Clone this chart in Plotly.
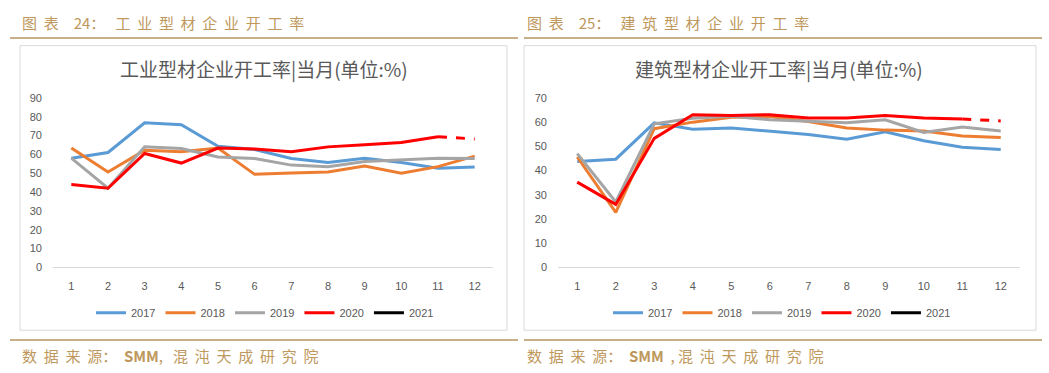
import plotly.graph_objects as go

months = list(range(1, 13))
tick_labels = [str(m) for m in months]
years = ["2017", "2018", "2019", "2020", "2021"]

# 工业型材企业开工率
ind_2017 = [58.0, 61.0, 76.8, 75.8, 64.3, 62.6, 57.8, 55.7, 58.0, 55.7, 52.6, 53.3]
ind_2018 = [63.4, 50.6, 62.2, 61.4, 63.4, 49.4, 50.1, 50.6, 53.8, 50.0, 53.5, 59.1]
ind_2019 = [58.0, 42.0, 64.0, 63.1, 58.6, 57.8, 54.3, 53.5, 56.2, 57.1, 58.0, 57.8]
ind_2020 = [44.0, 42.0, 60.5, 55.4, 63.4, 62.9, 61.4, 64.0, 65.1, 66.3, 69.4, 68.2]

# 建筑型材企业开工率
bld_2017 = [43.7, 44.7, 59.7, 57.1, 57.6, 56.3, 54.9, 52.9, 56.0, 52.3, 49.6, 48.7]
bld_2018 = [45.6, 22.7, 57.3, 60.0, 62.0, 62.3, 60.3, 57.6, 56.7, 56.3, 54.3, 53.7]
bld_2019 = [47.0, 27.0, 59.3, 61.6, 62.4, 61.0, 60.4, 59.7, 61.0, 55.7, 58.0, 56.3]
bld_2020 = [35.2, 26.0, 53.3, 63.1, 62.7, 63.1, 61.7, 61.7, 62.7, 61.7, 61.3, 60.5]

colors = {"2017": "#5B9BD5", "2018": "#ED7D31", "2019": "#A5A5A5", "2020": "#FF0000", "2021": "#000000"}

W, H = 1049, 373
def px(x):
    return x / W
def py(y):
    return 1 - y / H

fig = go.Figure()

def add_panel(xa, ya, legend, series):
    for yr, vals in series:
        if yr == "2020":
            fig.add_trace(go.Scatter(x=months[:11], y=vals[:11], mode="lines", name=yr,
                                     line=dict(color=colors[yr], width=3),
                                     xaxis=xa, yaxis=ya, legend=legend))
            fig.add_trace(go.Scatter(x=months[10:], y=vals[10:], mode="lines", name=yr,
                                     line=dict(color=colors[yr], width=3, dash="dash"),
                                     xaxis=xa, yaxis=ya, legend=legend, showlegend=False))
        else:
            fig.add_trace(go.Scatter(x=months, y=vals, mode="lines", name=yr,
                                     line=dict(color=colors[yr], width=3),
                                     xaxis=xa, yaxis=ya, legend=legend))
    fig.add_trace(go.Scatter(x=[None], y=[None], mode="lines", name="2021",
                             line=dict(color=colors["2021"], width=3),
                             xaxis=xa, yaxis=ya, legend=legend))

add_panel("x", "y", "legend", [("2017", ind_2017), ("2018", ind_2018), ("2019", ind_2019), ("2020", ind_2020)])
add_panel("x2", "y2", "legend2", [("2017", bld_2017), ("2018", bld_2018), ("2019", bld_2019), ("2020", bld_2020)])

tick_font = dict(family="Liberation Sans, Arial, sans-serif", size=11, color="#595959")
ydom = [py(270), py(95)]

common_x = dict(tickmode="array", tickvals=months, ticktext=tick_labels, range=[0.5, 12.5],
                showgrid=False, zeroline=False, showline=True, linecolor="#D9D9D9", linewidth=1,
                ticks="", tickfont=tick_font, fixedrange=True, ticklabelstandoff=8)
common_y = dict(showgrid=False, zeroline=False, showline=False, ticks="", tickfont=tick_font,
                dtick=10, ticklabelstandoff=10, domain=ydom, fixedrange=True)

legend_font = dict(family="Liberation Sans, Arial, sans-serif", size=11, color="#595959")
fig.update_layout(
    width=W, height=H,
    margin=dict(l=0, r=0, t=0, b=0),
    paper_bgcolor="white", plot_bgcolor="white",
    xaxis=dict(domain=[px(53), px(493)], anchor="y", **common_x),
    yaxis=dict(range=[0, 90], anchor="x", **common_y),
    xaxis2=dict(domain=[px(558), px(1020)], anchor="y2", **common_x),
    yaxis2=dict(range=[0, 70], anchor="x2", **common_y),
    legend=dict(orientation="h", x=px(265), xanchor="center", y=py(317), yanchor="middle",
                font=legend_font, itemwidth=30, tracegroupgap=0, bgcolor="rgba(0,0,0,0)"),
    legend2=dict(orientation="h", x=px(782), xanchor="center", y=py(317), yanchor="middle",
                 font=legend_font, itemwidth=30, tracegroupgap=0, bgcolor="rgba(0,0,0,0)"),
    showlegend=True,
)

gold = "#BE985C"
line_gold = "#B59662"
shapes = [
    dict(type="line", xref="paper", yref="paper", x0=px(10), x1=px(518), y0=py(33), y1=py(33),
         line=dict(color=line_gold, width=1.5)),
    dict(type="line", xref="paper", yref="paper", x0=px(524), x1=px(1042), y0=py(33), y1=py(33),
         line=dict(color=line_gold, width=1.5)),
    dict(type="line", xref="paper", yref="paper", x0=px(10), x1=px(518), y0=py(345), y1=py(345),
         line=dict(color=line_gold, width=1.5)),
    dict(type="line", xref="paper", yref="paper", x0=px(524), x1=px(1042), y0=py(345), y1=py(345),
         line=dict(color=line_gold, width=1.5)),
    dict(type="rect", xref="paper", yref="paper", x0=px(20), x1=px(507), y0=py(335), y1=py(41),
         line=dict(color="#D9D9D9", width=1)),
    dict(type="rect", xref="paper", yref="paper", x0=px(524), x1=px(1036), y0=py(335), y1=py(41),
         line=dict(color="#D9D9D9", width=1)),
]
fig.update_layout(shapes=shapes)

cjk = "Noto Sans CJK SC"
ann = []
def text(x, y, s, size, color, xanchor="left", family=cjk):
    ann.append(dict(xref="paper", yref="paper", x=px(x), y=py(y), text=s, showarrow=False,
                    xanchor=xanchor, yanchor="middle",
                    font=dict(family=family, size=size, color=color)))

NB = "\u00a0"
EM = "\u2003"
def spaced(s, n=2):
    return (NB * n).join(list(s))

smm = "<b>SMM</b>"
text(20, 17, spaced("图表") + EM + "24：" + NB * 3 + spaced("工业型材企业开工率"), 15, gold)
text(525, 17, spaced("图表") + EM + "25：" + NB * 3 + spaced("建筑型材企业开工率"), 15, gold)
text(20, 361, spaced("数据来源") + "：" + NB * 2 + smm + "," + NB * 3 + spaced("混沌天成研究院"), 15, gold)
text(525, 361, spaced("数据来源") + "：" + NB * 2 + smm + NB * 2 + "," + NB + spaced("混沌天成研究院"), 15, gold)
text(264, 65, "工业型材企业开工率|当月(单位:%)", 19, "#595959", xanchor="center")
text(779, 65, "建筑型材企业开工率|当月(单位:%)", 19, "#595959", xanchor="center")
fig.update_layout(annotations=ann)

fig.write_html("out.html", config={"displayModeBar": False},
               post_script="document.body.style.margin='0px';")
